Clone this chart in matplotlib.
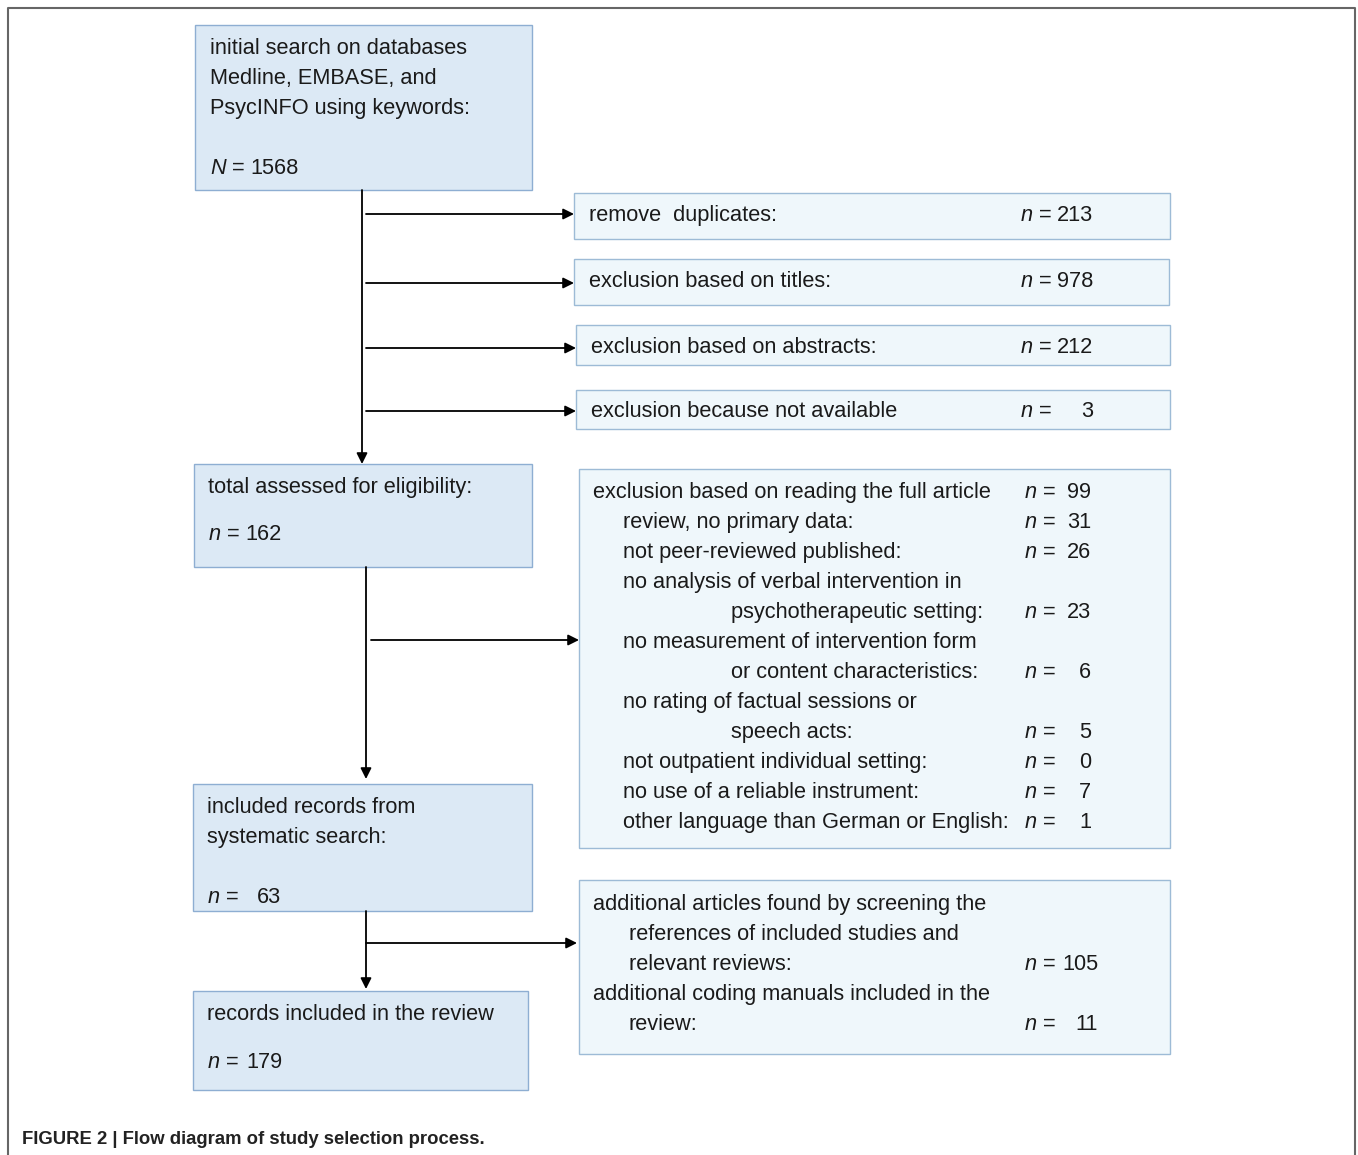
import matplotlib
matplotlib.use("Agg")
import matplotlib.pyplot as plt
from matplotlib.patches import Rectangle

plt.rcParams["font.family"] = ["Liberation Sans", "DejaVu Sans"]
plt.rcParams["mathtext.fontset"] = "custom"
plt.rcParams["mathtext.it"] = "Liberation Sans:italic"
plt.rcParams["mathtext.rm"] = "Liberation Sans"

# --- content ---
initial_lines = ["initial search on databases", "Medline, EMBASE, and", "PsycINFO using keywords:"]
initial_n = 1568

screen_labels = ["remove  duplicates:", "exclusion based on titles:",
                 "exclusion based on abstracts:", "exclusion because not available"]
screen_counts = [213, 978, 212, 3]

assessed_label = "total assessed for eligibility:"
assessed_n = 162

fulltext_lines = ["exclusion based on reading the full article", "review, no primary data:",
                  "not peer-reviewed published:", "no analysis of verbal intervention in",
                  "psychotherapeutic setting:", "no measurement of intervention form",
                  "or content characteristics:", "no rating of factual sessions or",
                  "speech acts:", "not outpatient individual setting:",
                  "no use of a reliable instrument:", "other language than German or English:"]
fulltext_indent = [0, 1, 1, 1, 2, 1, 2, 1, 2, 1, 1, 1]
fulltext_counts = [99, 31, 26, None, 23, None, 6, None, 5, 0, 7, 1]

included_lines = ["included records from", "systematic search:"]
included_n = 63

additional_lines = ["additional articles found by screening the", "references of included studies and",
                    "relevant reviews:", "additional coding manuals included in the", "review:"]
additional_indent = [0, 1, 1, 0, 1]
additional_counts = [None, None, 105, None, 11]

final_label = "records included in the review"
final_n = 179

caption = "FIGURE 2 | Flow diagram of study selection process."

# --- styles ---
LEFT_FILL, LEFT_EDGE = "#dce9f5", "#8eaed2"
RIGHT_FILL, RIGHT_EDGE = "#eff7fb", "#9dbbd6"
FS = 15.7

fig = plt.figure(figsize=(13.58, 11.55), dpi=100)
ax = fig.add_axes([0, 0, 1, 1])
ax.set_xlim(0, 1358); ax.set_ylim(1155, 0); ax.axis("off")


def box(x0, y0, x1, y1, left=True):
    ax.add_patch(Rectangle((x0, y0), x1 - x0, y1 - y0, lw=1.0,
                           facecolor=LEFT_FILL if left else RIGHT_FILL,
                           edgecolor=LEFT_EDGE if left else RIGHT_EDGE))


def txt(x, y, s, **kw):
    ax.text(x, y + 1.5, s, fontsize=FS, va="center", ha=kw.pop("ha", "left"), color="#1a1a1a", **kw)


def count(xn, xr, y, v, sym="n"):
    txt(xn, y, f"${sym}$ =")
    txt(xr, y, str(v), ha="right")


def arrow(x0, y0, x1, y1):
    ax.annotate("", xy=(x1, y1), xytext=(x0, y0),
                arrowprops=dict(arrowstyle="-|>", color="black", lw=1.3,
                                mutation_scale=16, shrinkA=0, shrinkB=0))


# frame
ax.plot([8, 8, 1355, 1355], [1155, 8, 8, 1155], color="#666666", lw=1.5)

# initial
box(195, 25, 532, 190)
for i, s in enumerate(initial_lines):
    txt(210, 47 + 30 * i, s)
count(210, 299, 167, initial_n, sym="N")

# screening boxes
screen_boxes = [(574, 193, 1170, 239), (574, 259, 1169, 305), (576, 325, 1170, 365), (576, 390, 1170, 429)]
screen_y = [214, 280, 346, 410]
arrow_y = [214, 283, 348, 411]
for (x0, y0, x1, y1), ty, ay, lab, c in zip(screen_boxes, screen_y, arrow_y, screen_labels, screen_counts):
    box(x0, y0, x1, y1, left=False)
    txt(x0 + 15, ty, lab)
    count(1020, 1093, ty, c)
    arrow(366, ay, x0, ay)
arrow(362, 190, 362, 464)

# assessed
box(194, 464, 532, 567)
txt(208, 486, assessed_label)
count(208, 282, 533, assessed_n)

# full-text exclusions
box(579, 469, 1170, 848, left=False)
indent_x = [593, 623, 731]
for i, (s, ind, c) in enumerate(zip(fulltext_lines, fulltext_indent, fulltext_counts)):
    y = 491 + 30 * i
    txt(indent_x[ind], y, s)
    if c is not None:
        count(1024, 1091, y, c)
arrow(366, 567, 366, 779)
arrow(371, 640, 579, 640)

# included from search
box(193, 784, 532, 911)
for i, s in enumerate(included_lines):
    txt(207, 806 + 30 * i, s)
count(207, 281, 896, included_n)

# additional records
box(579, 880, 1170, 1054, left=False)
add_x = [593, 629]
for i, (s, ind, c) in enumerate(zip(additional_lines, additional_indent, additional_counts)):
    y = 903 + 30 * i
    txt(add_x[ind], y, s)
    if c is not None:
        count(1024, 1098, y, c)
arrow(366, 911, 366, 989)
arrow(366, 943, 577, 943)

# final
box(193, 991, 528, 1090)
txt(207, 1013, final_label)
count(207, 282, 1061, final_n)

ax.text(22, 1139, caption, fontsize=13.3, fontweight="bold", va="center", color="#222222")

fig.savefig("out.png", dpi=100)
